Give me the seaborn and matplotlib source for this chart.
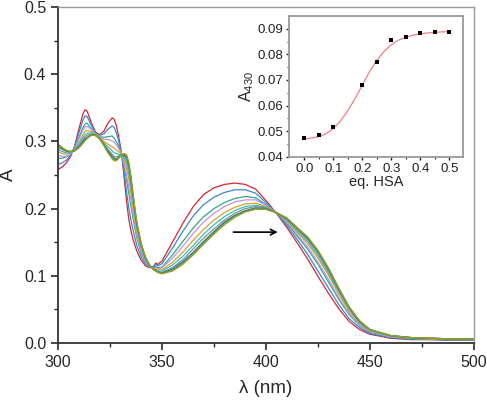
import matplotlib
matplotlib.use("Agg")
import matplotlib.pyplot as plt
import pandas as pd
import seaborn as sns

# wavelength grid (nm)
wavelength = [300, 302, 304, 306, 308, 310, 312, 313, 314, 316, 318, 320, 322, 324, 326, 327,
              328, 329, 330, 331, 332, 333, 334, 335, 336, 337, 338, 340, 342, 344, 346, 347,
              348, 350, 355, 360, 365, 370, 375, 380, 385, 390, 395, 400, 405, 410, 415, 420,
              425, 430, 435, 440, 445, 450, 460, 470, 480, 490, 500]

# absorbance spectra during the HSA titration
spec_00 = [.258, .262, .268, .277, .293, .318, .341, .347, .345, .328, .314, .310, .315, .327, .335, .333,
           .324, .310, .293, .270, .240, .210, .185, .168, .155, .145, .136, .123, .115, .112, .114, .119,
           .117, .122, .150, .178, .203, .221, .231, .236, .238, .236, .229, .212, .193, .172, .149, .125,
           .099, .074, .051, .032, .020, .013, .007, .005, .005, .004, .004]
spec_01 = [.266, .268, .272, .279, .292, .312, .332, .338, .337, .324, .313, .309, .311, .318, .323, .321,
           .313, .303, .290, .272, .248, .224, .202, .184, .169, .156, .144, .128, .118, .113, .113, .117,
           .115, .118, .141, .166, .189, .206, .217, .224, .228, .228, .223, .209, .193, .175, .154, .132,
           .107, .082, .057, .036, .023, .014, .008, .006, .005, .004, .004]
spec_02 = [.275, .275, .277, .281, .290, .305, .321, .326, .327, .319, .312, .307, .306, .307, .308, .305,
           .300, .294, .286, .275, .259, .242, .223, .205, .187, .170, .155, .134, .121, .114, .112, .114,
           .112, .113, .131, .151, .171, .188, .200, .209, .215, .218, .216, .206, .193, .178, .159, .140,
           .117, .091, .065, .042, .026, .016, .009, .006, .006, .005, .005]
spec_03 = [.279, .278, .278, .281, .289, .303, .317, .322, .322, .318, .311, .307, .303, .303, .301, .299,
           .295, .290, .285, .276, .263, .249, .232, .213, .194, .175, .159, .137, .122, .114, .111, .112,
           .110, .112, .126, .144, .163, .180, .193, .203, .210, .213, .213, .205, .194, .180, .162, .143,
           .120, .095, .068, .044, .027, .017, .009, .007, .006, .005, .005]
spec_04 = [.285, .282, .281, .283, .288, .298, .310, .315, .316, .315, .311, .306, .300, .296, .292, .290,
           .287, .285, .283, .278, .269, .259, .245, .225, .204, .184, .165, .141, .124, .115, .111, .111,
           .109, .109, .120, .135, .153, .169, .183, .194, .202, .207, .208, .203, .194, .182, .165, .148,
           .126, .101, .073, .047, .029, .018, .010, .007, .006, .005, .005]
spec_05 = [.288, .285, .283, .283, .287, .296, .306, .310, .312, .313, .310, .305, .298, .292, .286, .283,
           .282, .281, .281, .279, .274, .266, .253, .234, .211, .189, .170, .143, .125, .115, .110, .109,
           .107, .107, .116, .129, .145, .162, .176, .188, .197, .203, .205, .202, .194, .183, .167, .151,
           .130, .104, .076, .050, .030, .019, .010, .007, .007, .006, .006]
spec_06 = [.291, .288, .285, .284, .287, .293, .302, .307, .309, .311, .310, .305, .297, .288, .281, .278,
           .277, .278, .280, .280, .277, .272, .260, .240, .217, .193, .173, .145, .126, .116, .110, .108,
           .106, .105, .112, .124, .140, .156, .170, .183, .193, .200, .203, .201, .194, .184, .169, .154,
           .133, .107, .078, .051, .031, .019, .011, .008, .007, .006, .006]
spec_07 = [.294, .289, .286, .285, .286, .292, .300, .304, .306, .310, .309, .304, .295, .286, .278, .275,
           .274, .276, .279, .280, .279, .276, .265, .245, .221, .197, .175, .147, .127, .116, .109, .108,
           .106, .104, .110, .121, .135, .151, .166, .180, .190, .197, .201, .200, .194, .185, .171, .156,
           .136, .110, .080, .053, .032, .020, .011, .008, .007, .006, .006]
spec_08 = [.295, .290, .286, .285, .286, .291, .298, .302, .305, .310, .309, .304, .295, .284, .276, .273,
           .273, .275, .278, .281, .281, .278, .267, .248, .223, .198, .177, .147, .128, .116, .109, .107,
           .105, .104, .108, .119, .133, .149, .164, .178, .189, .196, .200, .199, .194, .186, .171, .157,
           .137, .111, .081, .053, .033, .020, .011, .008, .007, .006, .006]
spec_09 = [.296, .291, .287, .285, .286, .290, .297, .301, .304, .309, .309, .304, .294, .283, .274, .271,
           .271, .274, .278, .281, .282, .280, .270, .250, .225, .200, .178, .148, .128, .116, .109, .107,
           .105, .103, .107, .117, .131, .147, .162, .176, .187, .195, .199, .199, .194, .186, .172, .158,
           .138, .112, .082, .054, .033, .020, .011, .008, .007, .006, .006]
spectra = [spec_00, spec_01, spec_02, spec_03, spec_04, spec_05, spec_06, spec_07, spec_08, spec_09]
spec_colors = ["#d8262c", "#3a86d8", "#2fa88a", "#c890e0", "#e0a024", "#26c6c6",
               "#8c8c8c", "#3468b0", "#40a040", "#9c9c20"]

# inset: A430 vs equivalents of HSA
eq_hsa = [0.0, 0.05, 0.1, 0.2, 0.25, 0.3, 0.35, 0.4, 0.45, 0.5]
a430 = [0.0472, 0.0484, 0.0515, 0.0680, 0.0770, 0.0855, 0.0866, 0.0882, 0.0889, 0.0886]
fit_x = [0.0, 0.025, 0.05, 0.075, 0.1, 0.125, 0.15, 0.175, 0.2, 0.225, 0.25, 0.275, 0.3,
         0.325, 0.35, 0.375, 0.4, 0.425, 0.45, 0.475, 0.5]
fit_y = [0.0470, 0.0473, 0.0479, 0.0490, 0.0510, 0.0540, 0.0580, 0.0628, 0.0680, 0.0733,
         0.0777, 0.0812, 0.0838, 0.0856, 0.0867, 0.0875, 0.0880, 0.0884, 0.0886, 0.0888, 0.0889]

sns.set_style("ticks")
plt.rcParams["font.family"] = ["Liberation Sans", "DejaVu Sans"]
plt.rcParams["mathtext.default"] = "regular"

rows = []
for i, s in enumerate(spectra):
    for w, a in zip(wavelength, s):
        rows.append({"wl": w, "A": a, "curve": f"c{i}"})
df = pd.DataFrame(rows)

fig = plt.figure(figsize=(4.87, 4.0), dpi=100)
ax = fig.add_axes([58 / 487, 57 / 400, 416 / 487, 336 / 400])
sns.lineplot(data=df, x="wl", y="A", hue="curve", palette=spec_colors, sort=False,
             legend=False, linewidth=0.9, ax=ax)
ax.set_xlim(300, 500)
ax.set_ylim(0, 0.5)
ax.set_xticks([300, 350, 400, 450, 500])
ax.set_xticks([325, 375, 425, 475], minor=True)
ax.set_yticks([0.0, 0.1, 0.2, 0.3, 0.4, 0.5])
ax.set_yticks([0.05, 0.15, 0.25, 0.35, 0.45], minor=True)
ax.set_yticklabels(["0.0", "0.1", "0.2", "0.3", "0.4", "0.5"])
ax.tick_params(which="major", direction="out", length=5, width=1.2, labelsize=11.5)
ax.tick_params(which="minor", direction="out", length=3, width=1.0)
ax.set_xlabel("λ (nm)", fontsize=13.5, labelpad=7)
ax.set_ylabel("A", fontsize=13.5, labelpad=5)
for side in ["left", "bottom"]:
    ax.spines[side].set_linewidth(1.3)
    ax.spines[side].set_color("#333333")
for side in ["top", "right"]:
    ax.spines[side].set_linewidth(1.0)
    ax.spines[side].set_color("#999999")
ax.annotate("", xy=(407, 0.165), xytext=(383, 0.165),
            arrowprops=dict(arrowstyle="->", color="black", lw=1.2))

ins = fig.add_axes([289 / 487, 1 - 156.7 / 400, 174 / 487, 140.7 / 400])
sns.lineplot(x=fit_x, y=fit_y, color="#f08080", linewidth=0.9, ax=ins)
sns.scatterplot(x=eq_hsa, y=a430, marker="s", s=8, color="black", edgecolor="black",
                linewidth=0, ax=ins, zorder=3)
ins.set_xlim(-0.053, 0.547)
ins.set_ylim(0.04, 0.095)
ins.set_xticks([0.0, 0.1, 0.2, 0.3, 0.4, 0.5])
ins.set_xticks([0.05, 0.15, 0.25, 0.35, 0.45], minor=True)
ins.set_xticklabels(["0.0", "0.1", "0.2", "0.3", "0.4", "0.5"])
ins.set_yticks([0.04, 0.05, 0.06, 0.07, 0.08, 0.09])
ins.set_yticks([0.045, 0.055, 0.065, 0.075, 0.085], minor=True)
ins.tick_params(which="major", direction="out", length=2.5, width=1.0, pad=2,
                labelsize=9.5, colors="#222222")
ins.tick_params(which="minor", direction="out", length=1.5, width=0.8)
ins.set_xlabel("eq. HSA", fontsize=10.5, labelpad=0)
ins.set_ylabel("A$_{430}$", fontsize=11.5, labelpad=1)
for side in ins.spines.values():
    side.set_color("#999999")
    side.set_linewidth(1.3)

fig.savefig("out.png", dpi=100)
